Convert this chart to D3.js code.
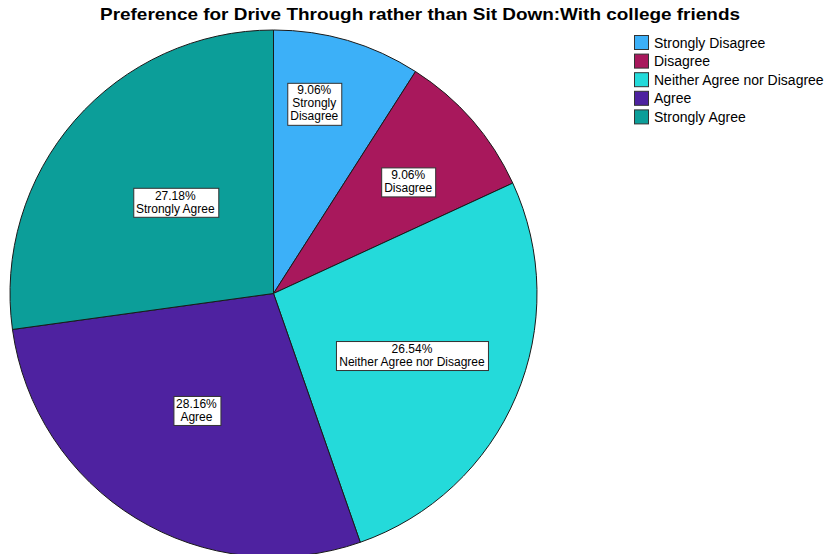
<!DOCTYPE html>
<html>
<head>
<meta charset="utf-8">
<script src="https://cdn.jsdelivr.net/npm/d3@7"></script>
<style>
  html, body { margin: 0; padding: 0; background: #fff; }
  svg { display: block; font-family: Arial, "Liberation Sans", sans-serif; }
</style>
</head>
<body>
<svg id="chart" width="833" height="554"></svg>
<script>
// Response categories and their shares (%)
const categories = ["Strongly Disagree", "Disagree", "Neither Agree nor Disagree", "Agree", "Strongly Agree"];
const percentages = [9.06, 9.06, 26.54, 28.16, 27.18];
const colors = ["#3cb0f8", "#a8185c", "#24dada", "#4e22a0", "#0c9e99"];
const titleText = "Preference for Drive Through rather than Sit Down:With college friends";

// Label placement inside each slice: [fraction along the slice angle, fraction of radius]
const labelPlacement = [[0.37, 0.74], [0.54, 0.665], [0.51, 0.575], [0.52, 0.53], [0.52, 0.51]];

const svg = d3.select("#chart");
const W = 833, H = 554;
const cx = 273.5, cy = 293.5, R = 263.5;

svg.append("rect").attr("width", W).attr("height", H).attr("fill", "#fff");

// Title
svg.append("text")
  .attr("x", 420).attr("y", 20)
  .attr("text-anchor", "middle")
  .attr("font-size", 17).attr("font-weight", "bold")
  .attr("textLength", 640).attr("lengthAdjust", "spacingAndGlyphs")
  .attr("fill", "#000")
  .text(titleText);

const data = categories.map((c, i) => ({ name: c, value: percentages[i], color: colors[i], idx: i }));

const pie = d3.pie().value(d => d.value).sort(null).startAngle(0).endAngle(2 * Math.PI);
const arc = d3.arc().innerRadius(0).outerRadius(R);
const arcs = pie(data);

const g = svg.append("g").attr("transform", `translate(${cx},${cy})`);

g.selectAll("path.slice")
  .data(arcs)
  .join("path")
  .attr("class", "slice")
  .attr("d", arc)
  .attr("fill", d => d.data.color)
  .attr("stroke", "#1a1a1a")
  .attr("stroke-width", 1);

// Value labels in white boxes
const labels = g.selectAll("g.label")
  .data(arcs)
  .join("g")
  .attr("class", "label")
  .attr("transform", d => {
    const [f, rf] = labelPlacement[d.data.idx];
    const a = d.startAngle + (d.endAngle - d.startAngle) * f;
    const r = R * rf;
    return `translate(${r * Math.sin(a)},${-r * Math.cos(a)})`;
  });

labels.each(function(d) {
  const gl = d3.select(this);
  // the narrow first slice gets its name on two lines
  let lines;
  if (d.data.name === "Strongly Disagree") lines = [d.data.value.toFixed(2) + "%", "Strongly", "Disagree"];
  else lines = [d.data.value.toFixed(2) + "%", d.data.name];
  const lh = 13;
  const rect = gl.append("rect").attr("fill", "#fff").attr("stroke", "#333").attr("stroke-width", 1);
  const t = gl.append("text")
    .attr("text-anchor", "middle")
    .attr("font-size", 12)
    .attr("fill", "#000");
  lines.forEach((ln, i) => {
    t.append("tspan")
      .attr("x", 0)
      .attr("y", (i - (lines.length - 1) / 2) * lh + 4.5)
      .text(ln);
  });
  const bb = t.node().getBBox();
  const padX = 3, padY = 1;
  rect.attr("x", Math.round(bb.x - padX) + 0.5)
    .attr("y", Math.round(bb.y - padY) + 0.5)
    .attr("width", Math.round(bb.width + 2 * padX))
    .attr("height", Math.round(bb.height + 2 * padY));
});

// Legend
const legend = svg.append("g").attr("transform", "translate(634,35)");
const rowH = 18.6;
const items = legend.selectAll("g.item")
  .data(data)
  .join("g")
  .attr("class", "item")
  .attr("transform", (d, i) => `translate(0,${i * rowH})`);
items.append("rect")
  .attr("x", 0.5).attr("y", 0.5)
  .attr("width", 14).attr("height", 14)
  .attr("fill", d => d.color)
  .attr("stroke", "#333").attr("stroke-width", 1);
items.append("text")
  .attr("x", 20).attr("y", 12.5)
  .attr("font-size", 14)
  .attr("fill", "#000")
  .text(d => d.name);
</script>
</body>
</html>
